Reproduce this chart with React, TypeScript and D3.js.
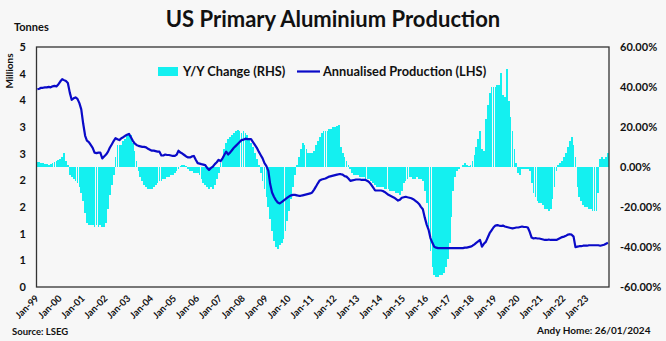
import React from "react";
import * as d3 from "d3";

const W = 666;
const H = 341;

const startYear = 1999;
const endYear = 2024;

// Annualised production, millions of tonnes (LHS), monthly Jan-1999 .. Dec-2023
const production: number[] = [
  4.12, 4.13, 4.15, 4.15, 4.16, 4.16, 4.17, 4.16, 4.18, 4.19, 4.18, 4.22,
  4.28, 4.33, 4.31, 4.29, 4.25, 4.05, 3.9, 3.93, 3.95, 3.92, 3.83, 3.7,
  3.4, 3.15, 3.05, 3.02, 2.96, 2.9, 2.8, 2.79, 2.8, 2.8, 2.68, 2.72,
  2.76, 2.82, 2.9, 2.97, 3.04, 3.1, 3.08, 3.06, 3.1, 3.12, 3.15, 3.17,
  3.19, 3.12, 3.05, 2.99, 2.96, 2.94, 2.93, 2.92, 2.92, 2.91, 2.88, 2.86,
  2.84, 2.84, 2.83, 2.82, 2.82, 2.74, 2.74, 2.76, 2.75, 2.75, 2.74, 2.73,
  2.73, 2.76, 2.84, 2.8, 2.78, 2.75, 2.72, 2.7, 2.7, 2.72, 2.73, 2.65,
  2.58, 2.57, 2.56, 2.55, 2.54, 2.48, 2.44, 2.48, 2.51, 2.56, 2.6, 2.65,
  2.62, 2.68, 2.75, 2.82, 2.76, 2.8, 2.85, 2.9, 2.94, 2.98, 3.02, 3.06,
  3.07, 3.09, 3.08, 3.08, 3.08, 3.02, 2.96, 2.9, 2.82, 2.75, 2.68, 2.58,
  2.52, 2.42, 2.15, 1.97, 1.88, 1.81, 1.76, 1.74, 1.77, 1.8, 1.83, 1.86,
  1.89, 1.91, 1.92, 1.92, 1.91, 1.9, 1.9, 1.91, 1.92, 1.93, 1.94, 1.95,
  1.97, 2.03, 2.09, 2.16, 2.22, 2.24, 2.25, 2.26, 2.28, 2.3, 2.31, 2.32,
  2.33, 2.34, 2.35, 2.35, 2.34, 2.31, 2.3, 2.26, 2.21, 2.22, 2.23, 2.24,
  2.24, 2.24, 2.23, 2.23, 2.23, 2.21, 2.18, 2.13, 2.07, 2.01, 2.01, 2.01,
  2.01, 2.0, 1.98, 1.95, 1.92, 1.9, 1.88, 1.86, 1.83, 1.8, 1.82, 1.86,
  1.87, 1.88, 1.87, 1.86, 1.85, 1.83, 1.8, 1.77, 1.73, 1.67, 1.62, 1.45,
  1.3, 1.19, 1.02, 0.92, 0.84, 0.82, 0.81, 0.81, 0.81, 0.81, 0.81, 0.81,
  0.81, 0.81, 0.81, 0.81, 0.81, 0.81, 0.81, 0.81, 0.82, 0.82, 0.83, 0.84,
  0.86, 0.89, 0.92, 0.95, 0.98, 0.84, 0.9, 0.94, 1.03, 1.12, 1.18, 1.24,
  1.28, 1.29, 1.28, 1.27, 1.28, 1.26, 1.25, 1.24, 1.23, 1.22, 1.23, 1.24,
  1.24, 1.25, 1.26, 1.25, 1.25, 1.24, 1.15, 1.03, 1.01, 1.02, 1.01, 1.01,
  1.0, 0.99, 0.98, 0.98, 0.99, 0.98, 0.98, 0.98, 0.98, 1.0, 1.02, 1.04,
  1.05, 1.07, 1.09, 1.1, 1.09, 1.05, 0.83, 0.84, 0.85, 0.85, 0.86, 0.86,
  0.86, 0.87, 0.87, 0.87, 0.87, 0.87, 0.87, 0.86, 0.87, 0.88, 0.9, 0.92,
];

// Y/Y change, percent (RHS)
const yoyChange: number[] = [
  2.5, 2.5, 2.0, 2.0, 1.5, 1.5, 1.0, 1.5, 2.0, 2.5, 3.0, 3.5,
  4, 5, 7, 3, 1, -4, -5, -6, -7, -8, -10, -13,
  -17, -23, -28, -29, -29, -29, -30, -29, -30, -29, -30, -30,
  -28, -21, -14, -9, -4, 5, 11, 11, 11, 13, 14, 16,
  17, 16, 12, 8, 3, -2, -5, -7, -9, -10, -11, -11,
  -11, -10, -9, -8, -7, -7, -6, -6, -5, -5, -4, -4,
  -3, -2, -1, 0.5, 1, 1, 0.5, -1, -2, -2, -3, -3,
  -3, -4, -6, -8, -9, -10, -11, -10, -11, -9, -6, -3,
  2, 5, 9, 12, 14, 15, 16, 17, 18, 18.5, 18, 17,
  18, 17, 16, 14, 12, 10, 7, 4, 1, -3, -7, -11,
  -15, -20, -26, -32, -37, -40, -41, -39, -38, -36, -32, -27,
  -22, -16, -10, -4, 1, 5, 9, 12, 11, 9, 7, 7,
  7, 8, 11, 13, 15, 17, 18, 18, 18, 19, 19, 20,
  20, 20.5, 21, 10, 7, 5, 3, 1, -1, -3, -4, -4,
  -4, -5, -5, -5, -6, -6, -6, -7, -8, -9, -10, -10,
  -10, -10, -11, -11, -11, -12, -12, -12, -13, -13, -14, -12,
  -8, -7, -6, -5, -5, -6, -6, -5, -6, -6, -7, -12,
  -18, -30, -42, -50, -54, -55, -55, -54, -54, -53, -50, -46,
  -38, -25, -12, -5, -2, -1, 0, 1, 2, 1, 0.5, 1,
  3, 6, 10, 14, 18, 9, 8, 24, 31, 37, 40, 40,
  40, 41, 41, 47, 36, 35, 49, 33, 25, 18, 9, 2,
  -3, -4, -1, -1, -1, -1, -2, -8, -13, -15, -17, -18,
  -18, -19, -21, -21, -22, -21, -16, -10, -2, 1, 2, 3,
  5, 7, 10, 13, 15, 11, 5, -10, -15, -17, -19, -20,
  -20, -21, -21, -22, -22, -22, -13, 4, 5, 4, 5, 7,
];

const leftTickLabels = ["0", "1", "1", "2", "2", "3", "3", "4", "4", "5"];
const rightTicks = [-60, -40, -20, 0, 20, 40, 60];

const title = "US Primary Aluminium Production";
const seriesBarName = "Y/Y Change (RHS)";
const seriesLineName = "Annualised Production (LHS)";

const FONT = "Lato, 'Open Sans', sans-serif";
const BAR = "#14F0F0";
const LINE = "#0A0AC8";

export default function App() {
  const left = 36.5;
  const right = 609;
  const top = 47;
  const bottom = 287;

  const months = d3.timeMonths(new Date(startYear, 0, 1), new Date(endYear, 0, 1));
  const years = d3.timeYears(new Date(startYear, 0, 1), new Date(endYear - 1, 0, 2));

  const x = d3
    .scaleTime()
    .domain([new Date(startYear, 0, 1), new Date(endYear, 0, 1)])
    .range([left, right]);
  const yL = d3.scaleLinear().domain([0, 5]).range([bottom, top]);
  const yR = d3.scaleLinear().domain([-60, 60]).range([bottom, top]);

  const fmt = d3.timeFormat("%b-%y");
  const leftTicks = d3.range(leftTickLabels.length).map((i) => (5 * i) / (leftTickLabels.length - 1));

  const line = d3
    .line<number>()
    .x((_, i) => x(d3.timeDay.offset(months[i], 14)))
    .y((d) => yL(d))
    .curve(d3.curveLinear);

  return (
    <div style={{ position: "absolute", left: 0, top: 0 }}>
      <svg width={W} height={H} style={{ display: "block", fontFamily: FONT }}>
        <rect x={0} y={0} width={W} height={H} fill="#F7F7F7" />
        <text x={333} y={27} textAnchor="middle" fontSize={22} fontWeight={700} fill="#111">
          {title}
        </text>
        <text x={14} y={31} fontSize={11} fontWeight={700} fill="#111">
          Tonnes
        </text>
        <text
          transform="translate(13,71) rotate(-90)"
          textAnchor="middle"
          fontSize={10}
          fontWeight={700}
          fill="#111"
        >
          Millions
        </text>

        {/* bars */}
        <g shapeRendering="crispEdges">
          {yoyChange.map((v, i) => {
            const x0 = x(months[i]);
            const x1 = x(d3.timeMonth.offset(months[i], 1));
            const y0 = yR(Math.max(0, v));
            const y1 = yR(Math.min(0, v));
            return (
              <rect key={i} x={x0} y={y0} width={Math.max(0.5, x1 - x0 - 0.15)} height={y1 - y0} fill={BAR} />
            );
          })}
        </g>

        {/* line */}
        <path d={line(production) || ""} fill="none" stroke={LINE} strokeWidth={2.2} strokeLinejoin="round" />

        {/* plot border */}
        <rect
          x={left}
          y={top}
          width={right - left}
          height={bottom - top}
          fill="none"
          stroke="#333"
          strokeWidth={1.3}
        />

        {/* left axis labels */}
        {leftTicks.map((t, i) => (
          <text key={i} x={26} y={yL(t)} dy="0.35em" textAnchor="end" fontSize={11} fontWeight={700} fill="#111">
            {leftTickLabels[i]}
          </text>
        ))}

        {/* right axis labels */}
        {rightTicks.map((t) => (
          <text key={t} x={620} y={yR(t)} dy="0.35em" fontSize={11} fontWeight={700} fill="#111">
            {t.toFixed(2) + "%"}
          </text>
        ))}

        {/* x labels */}
        {years.map((d, i) => (
          <text
            key={i}
            transform={`translate(${x(d) + 3},${299}) rotate(-45)`}
            textAnchor="end"
            fontSize={9.5}
            fontWeight={700}
            fill="#111"
          >
            {fmt(d)}
          </text>
        ))}

        {/* legend */}
        <rect x={158} y={67} width={20} height={9} fill={BAR} />
        <text x={183} y={71.5} dy="0.35em" fontSize={12.8} fontWeight={700} fill="#111">
          {seriesBarName}
        </text>
        <line x1={297} x2={320} y1={71.5} y2={71.5} stroke={LINE} strokeWidth={2.2} />
        <text x={323} y={71.5} dy="0.35em" fontSize={12.8} fontWeight={700} fill="#111">
          {seriesLineName}
        </text>

        <text x={12} y={335} fontSize={9.5} fontWeight={700} fill="#111">
          Source: LSEG
        </text>
        <text x={537} y={334} fontSize={10} fontWeight={700} fill="#111">
          Andy Home: 26/01/2024
        </text>
      </svg>
    </div>
  );
}
